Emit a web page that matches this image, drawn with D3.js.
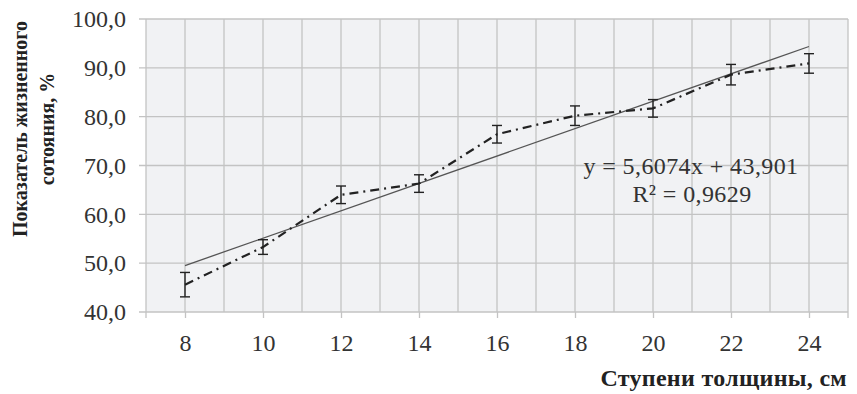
<!DOCTYPE html>
<html>
<head>
<meta charset="utf-8">
<script src="https://cdn.jsdelivr.net/npm/d3@7"></script>
<style>
  body { margin: 0; background: #fff; }
  svg { display: block; }
</style>
</head>
<body>
<div id="chart"></div>
<script>
// thickness steps, cm
const steps = [8, 10, 12, 14, 16, 18, 20, 22, 24];
// mean vitality index, %
const means = [45.6, 53.3, 64.0, 66.3, 76.4, 80.2, 81.7, 88.6, 90.9];
// error bar half-widths
const errs = [2.5, 1.5, 1.8, 1.8, 1.8, 2.0, 1.8, 2.1, 2.0];
// linear trend (on point index 1..n) from the chart label
const slope = 5.6074, intercept = 43.901, r2 = 0.9629;
const yTicks = [40, 50, 60, 70, 80, 90, 100];

const width = 857, height = 394;
const margin = { top: 19, right: 9, bottom: 82, left: 146 };

const svg = d3.select("#chart").append("svg")
    .attr("width", width).attr("height", height);

const x = d3.scaleLinear().domain([7, 25]).range([margin.left, width - margin.right]);
const y = d3.scaleLinear().domain([40, 100]).range([height - margin.bottom, margin.top]);

const fmt = v => d3.format(".1f")(v).replace(".", ",");
const serif = "'Liberation Serif', 'Times New Roman', serif";

// plot background
svg.append("rect")
    .attr("x", x(7)).attr("y", y(100))
    .attr("width", x(25) - x(7)).attr("height", y(40) - y(100))
    .attr("fill", "#f1f2f4");

// vertical grid at every integer
const grid = svg.append("g").attr("stroke", "#c3c3c3").attr("stroke-width", 1.3);
grid.selectAll("line.v").data(d3.range(8, 25))
    .join("line")
    .attr("x1", d => x(d)).attr("x2", d => x(d))
    .attr("y1", y(100)).attr("y2", y(40));
// horizontal grid, extending left as ticks
grid.selectAll("line.h").data(yTicks)
    .join("line")
    .attr("x1", x(7) - 7).attr("x2", x(25))
    .attr("y1", d => y(d)).attr("y2", d => y(d));
// left / right borders
grid.selectAll("line.b").data([7, 25])
    .join("line")
    .attr("x1", d => x(d)).attr("x2", d => x(d))
    .attr("y1", y(100)).attr("y2", y(40) + 6);

// x axis ticks below plot
const xAxis = d3.axisBottom(x).tickValues(steps).tickSize(6).tickPadding(16).tickFormat(d3.format("d"));
const gx = svg.append("g").attr("transform", `translate(0,${y(40)})`).call(xAxis);
gx.select(".domain").remove();
gx.selectAll(".tick line").attr("stroke", "#c3c3c3").attr("stroke-width", 1.3);
gx.selectAll(".tick text")
    .attr("font-family", serif).attr("font-size", 24).attr("fill", "#333");

// y axis labels
const yAxis = d3.axisLeft(y).tickValues(yTicks).tickSize(0).tickPadding(20).tickFormat(fmt);
const gy = svg.append("g").attr("transform", `translate(${x(7)},0)`).call(yAxis);
gy.select(".domain").remove();
gy.selectAll(".tick text")
    .attr("font-family", serif).attr("font-size", 24).attr("fill", "#333");

// trend line
const trend = steps.map((s, i) => [s, intercept + slope * (i + 1)]);
svg.append("path")
    .datum([trend[0], trend[trend.length - 1]])
    .attr("fill", "none").attr("stroke", "#555").attr("stroke-width", 1.3)
    .attr("d", d3.line().x(d => x(d[0])).y(d => y(d[1])));

// mean line, dash-dot
svg.append("path")
    .datum(steps.map((s, i) => [s, means[i]]))
    .attr("fill", "none").attr("stroke", "#222").attr("stroke-width", 2.2)
    .attr("stroke-dasharray", "9,5,2,5")
    .attr("d", d3.line().x(d => x(d[0])).y(d => y(d[1])));

// error bars
const eb = svg.append("g").attr("stroke", "#222").attr("stroke-width", 1.4);
steps.forEach((s, i) => {
  const cx = x(s), top = y(means[i] + errs[i]), bot = y(means[i] - errs[i]);
  eb.append("line").attr("x1", cx).attr("x2", cx).attr("y1", top).attr("y2", bot);
  eb.append("line").attr("x1", cx - 5).attr("x2", cx + 5).attr("y1", top).attr("y2", top);
  eb.append("line").attr("x1", cx - 5).attr("x2", cx + 5).attr("y1", bot).attr("y2", bot);
});

// equation label
const eq = svg.append("g").attr("font-family", serif).attr("font-size", 24)
    .attr("letter-spacing", 0.4)
    .attr("fill", "#333").attr("text-anchor", "middle");
eq.append("text").attr("x", 691).attr("y", 174)
    .text(`y = ${String(slope).replace(".", ",")}x + ${String(intercept).replace(".", ",")}`);
eq.append("text").attr("x", 692).attr("y", 202)
    .text(`R² = ${String(r2).replace(".", ",")}`);

// axis titles
svg.append("text")
    .attr("x", 847).attr("y", 386).attr("text-anchor", "end")
    .attr("font-family", serif).attr("font-weight", "bold").attr("font-size", 24)
    .attr("letter-spacing", 0.3)
    .attr("fill", "#222")
    .text("Ступени толщины, см");

const yt = svg.append("text")
    .attr("transform", "translate(0,129) rotate(-90)")
    .attr("text-anchor", "middle")
    .attr("font-family", serif).attr("font-weight", "bold").attr("font-size", 20)
    .attr("fill", "#222");
yt.append("tspan").attr("x", 0).attr("y", 27).text("Показатель жизненного");
yt.append("tspan").attr("x", 0).attr("y", 54).text("сотояния, %");
</script>
</body>
</html>
